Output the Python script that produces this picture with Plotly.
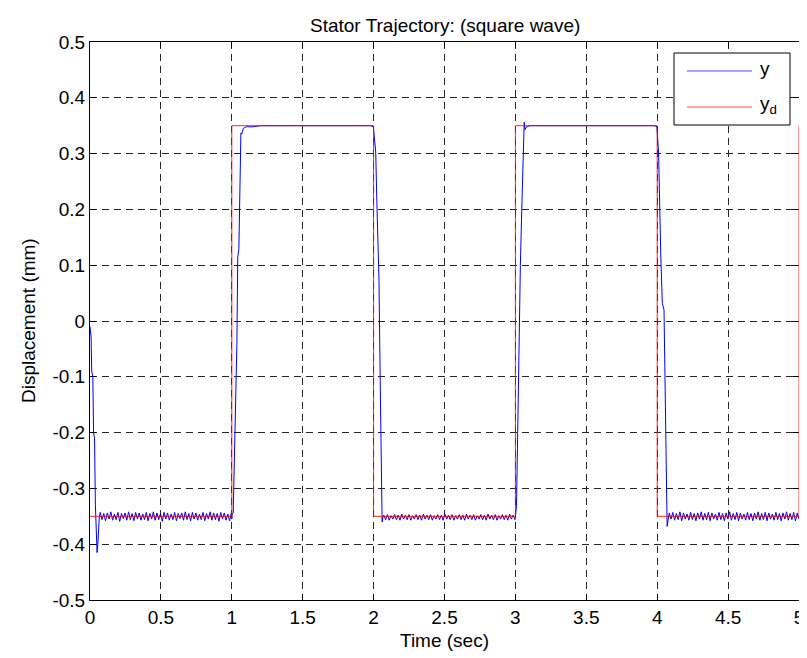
import numpy as np
import plotly.graph_objects as go

# Reference trajectory y_d (square wave)
yd_t = [0.0, 1.0, 1.0, 2.0, 2.0, 3.0, 3.0, 4.0, 4.0, 5.0, 5.0]
yd_v = [-0.35, -0.35, 0.35, 0.35, -0.35, -0.35, 0.35, 0.35, -0.35, -0.35, 0.35]

# Measured output y: transient pieces
start_t = [0.0, 0.003, 0.008, 0.012, 0.02, 0.025, 0.032, 0.038, 0.045, 0.05, 0.055, 0.06, 0.066]
start_v = [-0.01, -0.02, -0.03, -0.09, -0.10, -0.20, -0.21, -0.33, -0.40, -0.415, -0.40, -0.36, -0.35]

rise1_t = [1.0, 1.003, 1.01, 1.015, 1.023, 1.033, 1.036, 1.042, 1.05, 1.058, 1.064, 1.07, 1.081, 1.1, 1.15, 1.2, 1.98]
rise1_v = [-0.355, -0.345, -0.344, -0.285, -0.177, -0.052, -0.039, 0.115, 0.13, 0.247, 0.337, 0.335, 0.345, 0.348, 0.348, 0.35, 0.35]

fall1_t = [1.998, 2.015, 2.022, 2.038, 2.045, 2.055, 2.06, 2.066]
fall1_v = [0.348, 0.303, 0.222, 0.073, -0.075, -0.25, -0.36, -0.352]

rise2_t = [3.0, 3.008, 3.015, 3.025, 3.035, 3.045, 3.055, 3.062, 3.068, 3.075, 3.1, 3.98]
rise2_v = [-0.352, -0.33, -0.2, -0.05, 0.1, 0.2, 0.31, 0.356, 0.343, 0.347, 0.35, 0.35]

fall2_t = [3.998, 4.01, 4.025, 4.036, 4.048, 4.055, 4.062, 4.07, 4.078]
fall2_v = [0.348, 0.3, 0.12, 0.032, 0.02, -0.14, -0.30, -0.368, -0.355]

# Ripple around the -0.35 level
noise1 = [-0.343, -0.356, -0.345, -0.358, -0.344, -0.355, -0.342, -0.357, -0.346, -0.356,
          -0.343, -0.359, -0.345, -0.354, -0.344, -0.357, -0.342, -0.356, -0.345, -0.358,
          -0.343, -0.355, -0.344, -0.357, -0.346, -0.356, -0.343, -0.358, -0.345, -0.355,
          -0.342, -0.357, -0.344, -0.356, -0.345, -0.359, -0.343, -0.355, -0.344, -0.357,
          -0.346, -0.356, -0.343, -0.358, -0.345, -0.354, -0.344, -0.357, -0.342, -0.356,
          -0.345, -0.358, -0.343, -0.355, -0.344, -0.357, -0.346, -0.356, -0.343, -0.358,
          -0.345, -0.355, -0.342, -0.357, -0.344, -0.356, -0.345, -0.359, -0.343, -0.355,
          -0.344, -0.357, -0.346, -0.358, -0.344]
noise2 = [-0.348, -0.356, -0.347, -0.357, -0.349, -0.355, -0.347, -0.356, -0.348, -0.357,
          -0.346, -0.355, -0.348, -0.356, -0.347, -0.357, -0.349, -0.355, -0.347, -0.356,
          -0.348, -0.357, -0.346, -0.355, -0.348, -0.356, -0.347, -0.357, -0.349, -0.355,
          -0.347, -0.356, -0.348, -0.357, -0.346, -0.355, -0.348, -0.356, -0.347, -0.357,
          -0.349, -0.355, -0.347, -0.356, -0.348, -0.357, -0.346, -0.355, -0.348, -0.356,
          -0.347, -0.357, -0.349, -0.355, -0.347, -0.356, -0.348, -0.357, -0.346, -0.355,
          -0.348, -0.356, -0.347, -0.357, -0.349, -0.355, -0.347, -0.356, -0.348, -0.357,
          -0.346, -0.355, -0.348, -0.356]
noise3 = [-0.344, -0.355, -0.343, -0.357, -0.345, -0.356, -0.342, -0.358, -0.344, -0.355,
          -0.346, -0.357, -0.343, -0.356, -0.345, -0.358, -0.344, -0.355, -0.342, -0.357,
          -0.345, -0.356, -0.343, -0.358, -0.344, -0.355, -0.346, -0.357, -0.343, -0.356,
          -0.345, -0.358, -0.344, -0.355, -0.342, -0.357, -0.345, -0.356, -0.343, -0.358,
          -0.344, -0.355, -0.346, -0.357, -0.343, -0.356, -0.345, -0.358, -0.344, -0.355,
          -0.342, -0.357, -0.345, -0.356, -0.343, -0.358, -0.344, -0.355, -0.346, -0.357,
          -0.343, -0.356, -0.345, -0.358, -0.344, -0.355, -0.342, -0.357, -0.345, -0.356,
          -0.343, -0.358, -0.344, -0.355]

x_ticks = [0, 0.5, 1, 1.5, 2, 2.5, 3, 3.5, 4, 4.5, 5]
x_tick_labels = ["0", "0.5", "1", "1.5", "2", "2.5", "3", "3.5", "4", "4.5", "5"]
y_ticks = [-0.5, -0.4, -0.3, -0.2, -0.1, 0, 0.1, 0.2, 0.3, 0.4, 0.5]
y_tick_labels = ["-0.5", "-0.4", "-0.3", "-0.2", "-0.1", "0", "0.1", "0.2", "0.3", "0.4", "0.5"]

series_names = ["y", "y<sub>d</sub>"]
series_colors = ["#0000ff", "#ff0000"]

# assemble measured series
n1_t = list(np.linspace(0.072, 0.997, len(noise1)))
n2_t = list(np.linspace(2.072, 2.997, len(noise2)))
n3_t = list(np.linspace(4.085, 5.0, len(noise3)))

y_t = start_t + n1_t + rise1_t + fall1_t + n2_t + rise2_t + fall2_t + n3_t
y_v = start_v + noise1 + rise1_v + fall1_v + noise2 + rise2_v + fall2_v + noise3

font = "Liberation Sans, Arial, Helvetica, sans-serif"
FS = 19

# The page body has an 8px default margin; the figure is sized so that the
# plot area lands at page x 90..799, y 42..600.
OFF = 8
W, H = 807 - OFF, 658 - OFF
L, R, T, B = 90 - OFF, 8, 42 - OFF, 58
PL, PR, PT, PB = 90, 799, 42, 600   # plot area in page pixels


def px_x(px):
    return (px - PL) / (PR - PL)


def px_y(py):
    return (PB - py) / (PB - PT)


fig = go.Figure()
fig.add_trace(go.Scatter(x=y_t, y=y_v, mode="lines", name=series_names[0],
                         line=dict(color=series_colors[0], width=1), showlegend=False))
fig.add_trace(go.Scatter(x=yd_t, y=yd_v, mode="lines", name=series_names[1],
                         line=dict(color=series_colors[1], width=1), opacity=0.85,
                         showlegend=False))

axis_common = dict(
    showline=True, linecolor="black", linewidth=1, mirror="ticks",
    ticks="inside", ticklen=6, tickcolor="black", automargin=False,
    showgrid=True, gridcolor="#262626", gridwidth=1, griddash="7px,5px",
    zeroline=False, tickfont=dict(family=font, size=FS, color="black"),
    layer="below traces", ticklabeloverflow="allow",
)

annotations = [
    dict(text="Stator Trajectory: (square wave)", xref="paper", yref="paper",
         x=0.5, y=px_y(26), xanchor="center", yanchor="middle", showarrow=False,
         font=dict(family=font, size=FS, color="black")),
    dict(text="Time (sec)", xref="paper", yref="paper",
         x=0.5, y=px_y(640), xanchor="center", yanchor="middle", showarrow=False,
         font=dict(family=font, size=FS, color="black")),
    dict(text="Displacement (mm)", xref="paper", yref="paper", textangle=-90,
         x=px_x(28), y=0.5, xanchor="center", yanchor="middle", showarrow=False,
         font=dict(family=font, size=FS, color="black")),
]

# legend (box, samples, labels)
leg_left, leg_right, leg_top, leg_bot = 674, 790, 53, 125
leg_rows = [71, 107]
shapes = [dict(type="rect", xref="paper", yref="paper",
               x0=px_x(leg_left), x1=px_x(leg_right), y0=px_y(leg_bot), y1=px_y(leg_top),
               line=dict(color="black", width=1), fillcolor="white", layer="above")]
for name, color, row in zip(series_names, series_colors, leg_rows):
    shapes.append(dict(type="line", xref="paper", yref="paper",
                       x0=px_x(687), x1=px_x(752), y0=px_y(row), y1=px_y(row),
                       line=dict(color=color, width=1), opacity=0.7, layer="above"))
    annotations.append(dict(text=name, xref="paper", yref="paper",
                            x=px_x(758), y=px_y(row - 2), xanchor="left", yanchor="middle",
                            showarrow=False, font=dict(family=font, size=FS, color="black")))

fig.update_layout(
    width=W, height=H,
    margin=dict(l=L, r=R, t=T, b=B),
    paper_bgcolor="white", plot_bgcolor="white",
    font=dict(family=font, size=FS, color="black"),
    xaxis=dict(range=[0, 5], tickvals=x_ticks, ticktext=x_tick_labels, **axis_common),
    yaxis=dict(range=[-0.5, 0.5], tickvals=y_ticks, ticktext=y_tick_labels, **axis_common),
    showlegend=False,
    shapes=shapes,
    annotations=annotations,
)

fig.write_html("out.html")
